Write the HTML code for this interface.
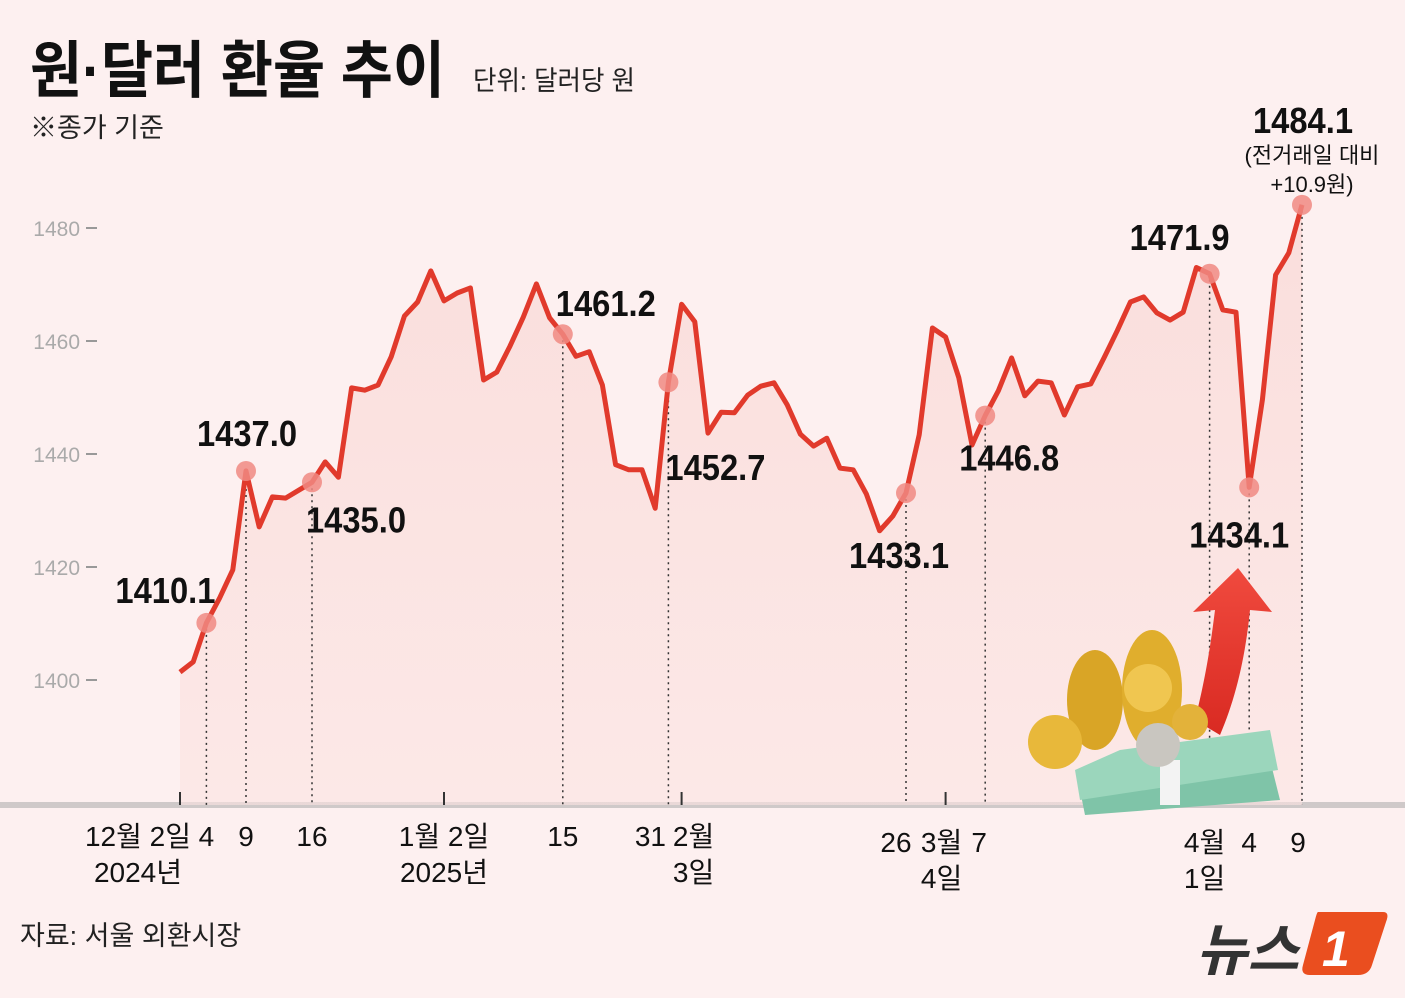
<!DOCTYPE html>
<html><head><meta charset="utf-8"><style>
html,body{margin:0;padding:0;background:#fdf0f0;}
svg{display:block;font-family:"Liberation Sans","Noto Sans CJK KR",sans-serif;}
</style></head><body>
<svg id="chart" width="1411" height="998" viewBox="0 0 1411 998">
<defs><linearGradient id="ar" x1="0" y1="0" x2="0" y2="1"><stop offset="0" stop-color="#f9d6d3" stop-opacity="0.7"/><stop offset="1" stop-color="#fbe3e1" stop-opacity="0.6"/></linearGradient>
<linearGradient id="arrow" x1="0" y1="0" x2="0" y2="1"><stop offset="0" stop-color="#f04a3e"/><stop offset="1" stop-color="#d92a22"/></linearGradient></defs>
<rect x="0" y="0" width="1411" height="998" fill="#fdf0f0"/>
<rect x="1405" y="0" width="6" height="998" fill="#fff"/>
<text x="30" y="92" font-size="62" font-weight="bold" fill="#111" textLength="415" lengthAdjust="spacingAndGlyphs">원·달러 환율 추이</text>
<text x="473" y="90" font-size="27" fill="#222" textLength="162" lengthAdjust="spacingAndGlyphs">단위: 달러당 원</text>
<text x="30" y="137" font-size="27" fill="#222">※종가 기준</text>
<g id="yaxis"></g>
<rect x="0" y="802" width="1405" height="6" fill="#cfc9c9"/>
<g id="area-g"></g><g id="guides"></g><g id="line-g"></g><g id="marks"></g><g id="labels"></g><g id="xaxis"></g>
<g>
<path d="M1195,720 C1205,680 1210,650 1215,610 L1193,612 L1238,568 L1272,612 L1250,610 C1245,660 1235,700 1220,735 Z" fill="url(#arrow)"/>
<path d="M1080,790 L1270,760 L1280,800 L1085,815 Z" fill="#7fc4a8"/>
<path d="M1075,770 L1120,750 L1270,730 L1278,770 L1080,800 Z" fill="#9bd6bc"/>
<rect x="1160" y="760" width="20" height="45" fill="#f3f3f3"/>
<ellipse cx="1095" cy="700" rx="28" ry="50" fill="#d9a526"/>
<ellipse cx="1152" cy="690" rx="30" ry="60" fill="#e0ae2d"/>
<circle cx="1055" cy="742" r="27" fill="#e8b83a"/>
<circle cx="1148" cy="688" r="24" fill="#f0c650"/>
<circle cx="1158" cy="745" r="22" fill="#c9c6c0"/>
<circle cx="1190" cy="722" r="18" fill="#e3b23a"/>
</g>
<text x="1196" y="970" font-size="56" font-weight="bold" font-style="italic" fill="#333">뉴스</text>
<path d="M1318,912 L1383,912 Q1390,912 1386,922 L1372,965 Q1369,975 1358,975 L1310,975 Q1300,975 1303,965 L1315,920 Q1317,912 1318,912 Z" fill="#ea4e1f"/>
<text x="1322" y="966" font-size="50" font-weight="bold" font-style="italic" fill="#fff">1</text>
<text x="20" y="945" font-size="27" fill="#222">자료: 서울 외환시장</text>
</svg>
<script>
const values=[1401.4,1403.2,1410.1,1414.5,1419.5,1437.0,1427.1,1432.4,1432.2,1433.6,1435.0,1438.6,1435.9,1451.7,1451.3,1452.2,1457.2,1464.4,1466.9,1472.4,1467.1,1468.5,1469.4,1453.1,1454.5,1459.1,1464.2,1470.1,1464.1,1461.2,1457.3,1458.1,1452.2,1438.1,1437.2,1437.2,1430.4,1452.7,1466.5,1463.4,1443.7,1447.4,1447.3,1450.4,1452.0,1452.6,1448.7,1443.5,1441.4,1442.8,1437.5,1437.2,1432.9,1426.4,1429.0,1433.1,1443.4,1462.3,1460.7,1453.5,1441.6,1446.8,1451.2,1457.0,1450.3,1452.9,1452.6,1446.9,1451.9,1452.4,1457.0,1461.8,1466.9,1467.8,1465.0,1463.7,1465.1,1473.0,1471.9,1465.5,1465.1,1434.1,1449.6,1471.7,1475.6,1484.1];
const highlightIdx=[2,5,10,29,37,55,61,78,81,85];
const labelText=["1410.1","1437.0","1435.0","1461.2","1452.7","1433.1","1446.8","1471.9","1434.1","1484.1"];
const labelOff=[[-41,-20],[1,-25],[44,50],[43,-18],[47,98],[-7,75],[24,55],[-30,-24],[-10,60],[1,-72]];
const yTicks=[1400,1420,1440,1460,1480];
const xTickIdx=[0,20,38,58];
const dateLabels=[["12월 2일","2024년"],["4"],["9"],["16"],["1월 2일","2025년"],["15"],["31"],["2월","3일"],["26"],["3월","4일"],["7"],["4월","1일"],["4"],["9"]];
const dateIdx=[0,2,5,10,20,29,37,38,55,58,61,78,81,85];
const dateDx=[-42,0,0,0,0,0,-18,12,-10,-4,-6,-5,0,-4];
const NS="http://www.w3.org/2000/svg";
const X=i=>180+i*(1122/(values.length-1));
const Y=v=>680-(v-1400)*5.65;
function mk(tag,attrs,parent){const e=document.createElementNS(NS,tag);for(const k in attrs)e.setAttribute(k,attrs[k]);document.getElementById(parent).appendChild(e);return e;}
yTicks.forEach(t=>{
 const tx=mk('text',{x:80,y:Y(t)+8,'font-size':21,fill:'#aaa','text-anchor':'end'},'yaxis');tx.textContent=t;
 
 
 const l=mk('line',{x1:86,x2:97,y1:Y(t),y2:Y(t),stroke:'#999','stroke-width':2},'yaxis');
 
 
});
let pts=values.map((v,i)=>X(i).toFixed(1)+','+Y(v).toFixed(1));
const area=mk('polygon',{points:X(0)+',805 '+pts.join(' ')+' '+X(values.length-1)+',805',fill:'url(#ar)'},'area-g');


const line=mk('polyline',{points:pts.join(' '),fill:'none',stroke:'#e13a2c','stroke-width':5,'stroke-linejoin':'round'},'line-g');


highlightIdx.forEach((i,k)=>{
 const x=X(i),y=Y(values[i]);
 const g=mk('line',{x1:x,x2:x,y1:y,y2:805,stroke:'#333','stroke-width':1.5,'stroke-dasharray':'2,4'},'guides');
 
 
 const c=mk('circle',{cx:x,cy:y,r:10,fill:'#f08a82','fill-opacity':0.85},'marks');
 
 
 const t=mk('text',{x:x+labelOff[k][0],y:y+labelOff[k][1],'font-size':36,'font-weight':'bold',fill:'#111','text-anchor':'middle',textLength:100,lengthAdjust:'spacingAndGlyphs'},'labels');
 t.textContent=labelText[k];
 
 
});
[["(전거래일 대비",163],["+10.9원)",192]].forEach(a=>{
 const t=mk('text',{x:X(85)+10,y:a[1],'font-size':22,fill:'#111','text-anchor':'middle'},'labels');t.textContent=a[0];
 
 
});
xTickIdx.forEach(i=>{
 const l=mk('line',{x1:X(i),x2:X(i),y1:792,y2:805,stroke:'#333','stroke-width':2},'xaxis');
 
 
});
dateLabels.forEach((lines,k)=>{
 const x=X(dateIdx[k])+dateDx[k];
 const base=(k>=8)?852:846;
 lines.forEach((s,j)=>{
  const t=mk('text',{x:x,y:base+j*36,'font-size':28,fill:'#111','text-anchor':'middle'},'xaxis');t.textContent=s;
  
  
 });
});
</script>
</body></html>
